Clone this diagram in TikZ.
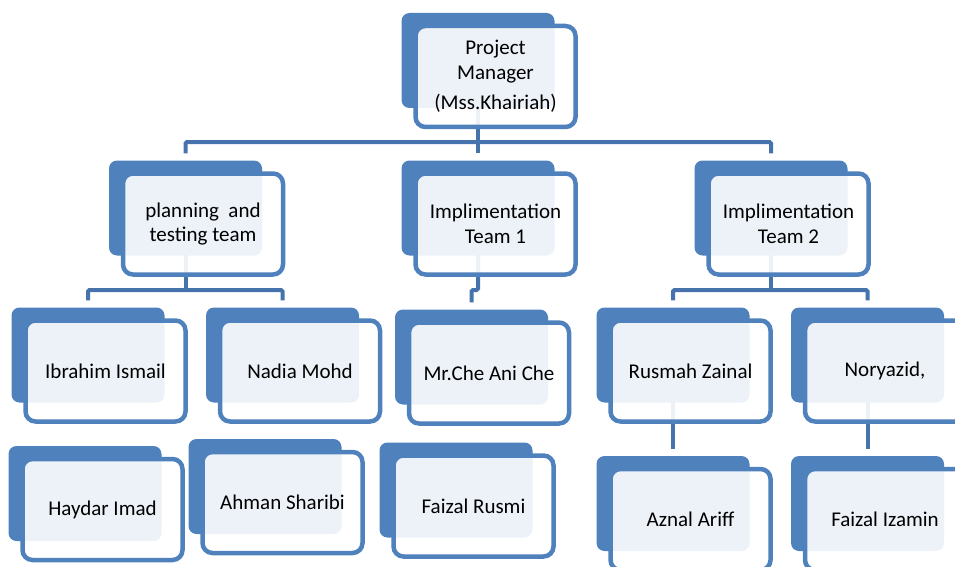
\documentclass[tikz,border=0pt]{standalone}
\usepackage{fontspec}
\setmainfont{Carlito}
\usetikzlibrary{backgrounds}

\definecolor{boxblue}{RGB}{79,129,189}
\definecolor{linkblue}{RGB}{70,115,172}

\tikzset{
  backbox/.style={fill=boxblue, rounded corners=8pt, minimum width=153pt, minimum height=95pt, inner sep=0pt},
  frontbox/.style={draw=boxblue, line width=4.5pt, fill=white, fill opacity=0.9, text opacity=1,
    rounded corners=10pt, minimum width=160pt, minimum height=101pt, inner sep=0pt,
    align=center, font=\fontsize{21}{24.5}\selectfont},
  link/.style={draw=linkblue, line width=4pt, rounded corners=1.5pt}
}

\begin{document}
\begin{tikzpicture}[x=1pt,y=-1pt]

\useasboundingbox (0,0) rectangle (955,567);

% manager
\node[backbox] (pmb) at (478,60.5) {};
\node[frontbox] (pm) at (495.5,76.5) {Project\\Manager\\[6pt](Mss.Khairiah)};

% teams
\node[backbox] (planb) at (185.5,208) {};
\node[frontbox] (plan) at (203,224) {planning\ \ and\\testing team};

\node[backbox] (impl1b) at (478,208) {};
\node[frontbox] (impl1) at (495.5,224) {Implimentation\\Team 1};

\node[backbox] (impl2b) at (771,208) {};
\node[frontbox] (impl2) at (788.5,224) {Implimentation\\Team 2};

% members, first row
\node[backbox] (ibrb) at (88,355) {};
\node[frontbox] (ibr) at (105.5,371) {Ibrahim Ismail};

\node[backbox] (nadb) at (282.5,355) {};
\node[frontbox] (nad) at (300,371) {Nadia Mohd};

\node[backbox] (cheb) at (471.5,357) {};
\node[frontbox] (che) at (489,373) {Mr.Che Ani Che};

\node[backbox] (rusb) at (673,355) {};
\node[frontbox] (rus) at (690.5,371) {Rusmah Zainal};

\node[backbox] (norb) at (867.5,355) {};
\node[frontbox] (nor) at (885,371) {Noryazid,};

% members, second row
\node[backbox] (hayb) at (85,493.5) {};
\node[frontbox] (hay) at (102.5,509.5) {Haydar Imad};

\node[backbox] (ahmb) at (265,486.5) {};
\node[frontbox] (ahm) at (282.5,502.5) {Ahman Sharibi};

\node[backbox] (frub) at (456,490) {};
\node[frontbox] (fru) at (473.5,506) {Faizal Rusmi};

\node[backbox] (aznb) at (673,503.5) {};
\node[frontbox] (azn) at (690.5,519.5) {Aznal Ariff};

\node[backbox] (fizb) at (867.5,503.5) {};
\node[frontbox] (fiz) at (885,519.5) {Faizal Izamin};

% connectors
\coordinate (busa) at (477.5,142);
\coordinate (busb) at (477.5,290);
\begin{scope}[on background layer]
\draw[link] (pmb.center) -- (pmb.center |- busa);
\draw[link] ([yshift=7pt]planb.north) -- (planb.north |- busa) -- (impl2b.north |- busa) -- ([yshift=7pt]impl2b.north);
\draw[link] (impl1b.north |- busa) -- ([yshift=7pt]impl1b.north);

\draw[link] (planb.center) -- (planb.center |- busb);
\draw[link] ([yshift=7pt]ibrb.north) -- (ibrb.north |- busb) -- (nadb.north |- busb) -- ([yshift=7pt]nadb.north);
\draw[link] (impl1b.center) -- (impl1b.center |- busb) -- (cheb.north |- busb) -- ([yshift=7pt]cheb.north);
\draw[link] (impl2b.center) -- (impl2b.center |- busb);
\draw[link] ([yshift=7pt]rusb.north) -- (rusb.north |- busb) -- (norb.north |- busb) -- ([yshift=7pt]norb.north);

\draw[link] (rusb.center) -- ([yshift=7pt]aznb.north);
\draw[link] (norb.center) -- ([yshift=7pt]fizb.north);
\end{scope}

\end{tikzpicture}
\end{document}
